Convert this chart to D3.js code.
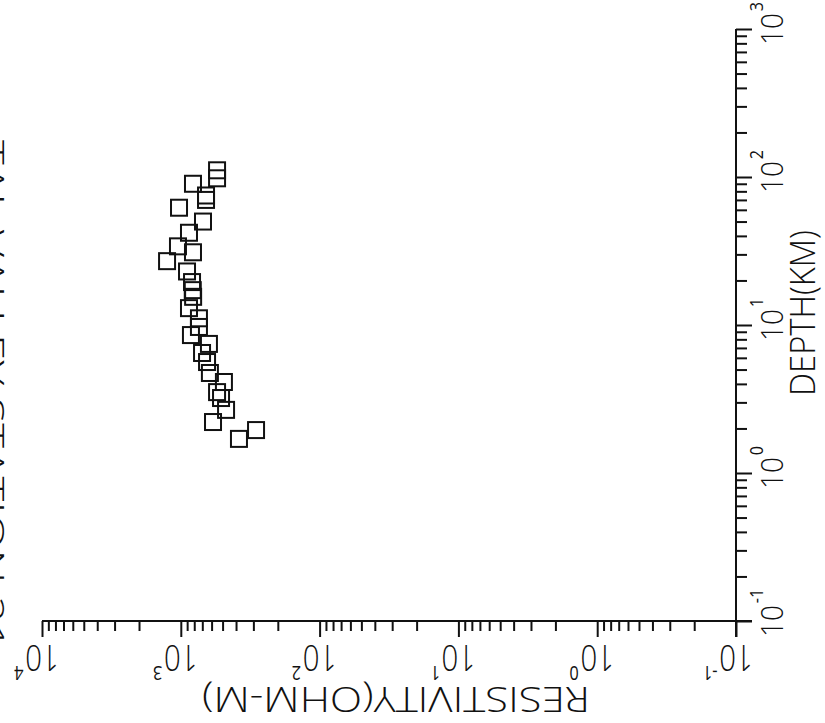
<!DOCTYPE html>
<html>
<head>
<meta charset="utf-8">
<script src="https://cdn.jsdelivr.net/npm/d3@7"></script>
<style>
  html, body { margin: 0; padding: 0; background: #fff; }
  svg { display: block; }
</style>
</head>
<body>
<div id="chart"></div>
<script>
(function() {
  var width = 825, height = 723;

  // sounding values (depth in km, resistivity in ohm-m)
  var depthKm = [111, 98, 90, 75, 70, 62, 50, 42, 34, 31, 27, 23, 19.5, 17.2, 15.5,
                 13.0, 11.1, 9.7, 8.55, 7.45, 6.47, 5.62, 4.74, 4.12, 3.52, 3.21, 2.67, 2.21, 1.95, 1.70];
  var resistivity = [548, 548, 817, 658, 658, 1030, 692, 873, 1048, 817, 1256, 902, 830, 820, 815,
                     873, 740, 740, 845, 627, 703, 647, 617, 489, 548, 513, 472, 586, 287, 381];

  var depthDecades = [0.1, 1, 10, 100, 1000];
  var depthExp = ['-1', '0', '1', '2', '3'];
  var resDecades = [10000, 1000, 100, 10, 1, 0.1];
  var resExp = ['4', '3', '2', '1', '0', '-1'];
  var titleText = 'TAL VALLEY STATION 21';
  var xTitle = 'RESISTIVITY(OHM-M)';
  var yTitle = 'DEPTH(KM)';

  var x = d3.scaleLog().domain([1e4, 0.1]).range([42, 736]);
  var y = d3.scaleLog().domain([0.1, 1000]).range([621, 29]);

  var minorTicks = function(lo, hi) {
    var out = [];
    for (var e = lo; e < hi; e++) {
      for (var m = 2; m <= 9; m++) out.push(m * Math.pow(10, e));
    }
    return out;
  };

  var svg = d3.select('#chart').append('svg')
    .attr('width', width).attr('height', height);

  var ink = '#111';
  var font = '"Open Sans", "DejaVu Sans", sans-serif';

  // bottom (resistivity) axis
  var gx = svg.append('g').attr('transform', 'translate(0,621)');
  gx.append('g').call(d3.axisBottom(x).tickValues(minorTicks(-1, 4)).tickSize(10).tickSizeOuter(0).tickFormat(''));
  gx.append('g').call(d3.axisBottom(x).tickValues(resDecades).tickSize(16).tickSizeOuter(0).tickFormat(''));
  gx.selectAll('path, line').attr('stroke', ink).attr('stroke-width', 2);
  gx.selectAll('path').attr('d', 'M' + x(1e4) + ',0H' + (x(0.1) + 16));

  // right (depth) axis
  var gy = svg.append('g').attr('transform', 'translate(736,0)');
  gy.append('g').call(d3.axisRight(y).tickValues(minorTicks(-1, 3)).tickSize(11).tickSizeOuter(0).tickFormat(''));
  gy.append('g').call(d3.axisRight(y).tickValues(depthDecades).tickSize(16).tickSizeOuter(0).tickFormat(''));
  gy.selectAll('path, line').attr('stroke', ink).attr('stroke-width', 2);
  gy.selectAll('path').attr('d', 'M0,' + (y(0.1) + 16) + 'V' + y(1000));

  // decade labels, written upside down / sideways like the plotter did
  svg.append('g').selectAll('g').data(resDecades).enter().append('g')
    .attr('transform', function(d) { return 'translate(' + x(d) + ',621) rotate(180)'; })
    .each(function(d, i) {
      var t = d3.select(this).append('text')
        .attr('font-family', font).attr('font-weight', 300).attr('font-size', 36).attr('fill', ink)
        .attr('transform', 'scale(0.82,1)')
        .attr('x', -0.57 * 36).attr('y', -24);
      t.append('tspan').text('10');
      t.append('tspan').attr('font-size', 20).attr('font-weight', 400)
        .attr('dy', -21).attr('dx', 2).text(resExp[i]);
    });

  svg.append('g').selectAll('g').data(depthDecades).enter().append('g')
    .attr('transform', function(d) { return 'translate(736,' + y(d) + ') rotate(-90)'; })
    .each(function(d, i) {
      var t = d3.select(this).append('text')
        .attr('font-family', font).attr('font-weight', 300).attr('font-size', 31).attr('fill', ink)
        .attr('transform', 'scale(0.9,1)')
        .attr('x', -0.57 * 31).attr('y', 47);
      t.append('tspan').text('10');
      t.append('tspan').attr('font-size', 18).attr('font-weight', 400)
        .attr('dy', -20).attr('dx', 2).text(depthExp[i]);
    });

  // axis titles
  svg.append('text')
    .attr('transform', 'translate(590,687) rotate(180)')
    .attr('font-family', font).attr('font-weight', 300).attr('font-size', 34).attr('fill', ink)
    .attr('textLength', 388).attr('lengthAdjust', 'spacingAndGlyphs')
    .text(xTitle);

  svg.append('text')
    .attr('transform', 'translate(815,396) rotate(-90)')
    .attr('font-family', font).attr('font-weight', 300).attr('font-size', 34).attr('fill', ink)
    .attr('textLength', 166).attr('lengthAdjust', 'spacingAndGlyphs')
    .text(yTitle);

  // title, mostly off the left edge of the scan
  svg.append('text')
    .attr('transform', 'translate(-21,140) rotate(90)')
    .attr('font-family', font).attr('font-weight', 300).attr('font-size', 34).attr('fill', ink)
    .attr('textLength', 510).attr('lengthAdjust', 'spacingAndGlyphs')
    .text(titleText);

  // data: open squares
  var pts = depthKm.map(function(d, i) { return { depth: d, res: resistivity[i] }; });
  svg.append('g').attr('fill', 'none').attr('stroke', ink).attr('stroke-width', 2)
    .selectAll('rect').data(pts).enter().append('rect')
    .attr('x', function(d) { return x(d.res) - 8; })
    .attr('y', function(d) { return y(d.depth) - 8; })
    .attr('width', 16).attr('height', 16);
}).call(this);
</script>
</body>
</html>
